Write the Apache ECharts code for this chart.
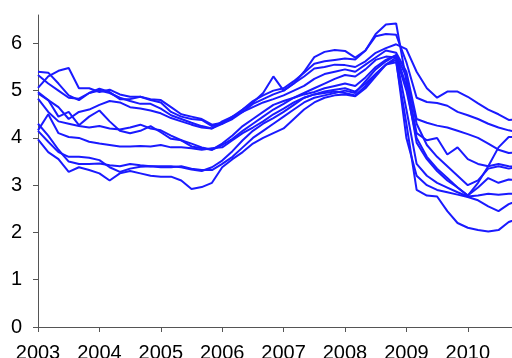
<!DOCTYPE html>
<html>
<head>
<meta charset="utf-8">
<script src="https://cdn.jsdelivr.net/npm/echarts@6/dist/echarts.min.js"></script>
<style>html,body{margin:0;padding:0;background:#fff}#c{width:512px;height:358px}</style>
</head>
<body>
<div id="c"></div>
<script>
// time grid: 2-month steps from 2003.0
var timeStart = 2003, timeStep = 1/6;
var yTicks = [0, 1, 2, 3, 4, 5, 6];
var xTicks = [2003, 2004, 2005, 2006, 2007, 2008, 2009, 2010];

var sA = [5.06,5.30,5.42,5.48,5.05,5.05,4.97,5.02,4.92,4.87,4.87,4.80,4.75,4.55,4.45,4.40,4.38,4.25,4.30,
          4.40,4.55,4.72,4.82,4.92,5.00,5.15,5.30,5.47,5.50,5.55,5.54,5.50,5.62,5.80,5.90,5.98,
          5.88,5.40,5.05,4.85,4.98,4.98,4.87,4.73,4.60,4.50,4.38,4.40];
var sB = [5.40,5.38,5.15,4.90,4.80,4.95,5.04,4.97,4.82,4.82,4.87,4.82,4.80,4.65,4.50,4.45,4.40,4.28,4.32,
          4.42,4.60,4.78,4.90,5.00,5.05,5.20,5.38,5.57,5.62,5.65,5.68,5.66,5.85,6.15,6.20,6.18,
          5.60,4.85,4.76,4.74,4.68,4.55,4.48,4.40,4.30,4.22,4.16,4.12];
var sC = [5.33,5.15,5.00,4.85,4.83,4.95,5.00,4.95,4.85,4.78,4.72,4.72,4.62,4.48,4.40,4.32,4.25,4.20,4.30,
          4.45,4.60,4.75,4.95,5.30,5.00,5.15,5.40,5.71,5.82,5.86,5.84,5.70,5.85,6.20,6.40,6.42,
          5.20,4.10,3.95,4.00,3.65,3.80,3.55,3.45,3.40,3.45,3.40,3.38];
var sG = [4.94,4.80,4.65,4.40,4.55,4.60,4.70,4.78,4.75,4.65,4.62,4.58,4.52,4.42,4.35,4.28,4.22,4.20,4.35,
          4.45,4.55,4.65,4.75,4.82,4.90,5.00,5.10,5.25,5.35,5.40,5.45,5.40,5.55,5.70,5.85,5.80,
          5.40,4.40,4.32,4.26,4.22,4.15,4.08,4.00,3.88,3.75,3.68,3.70];
var sD = [4.97,4.80,4.45,4.55,4.27,4.45,4.58,4.35,4.15,4.10,4.15,4.25,4.12,3.98,3.95,3.88,3.80,3.75,3.88,
          4.05,4.25,4.40,4.55,4.70,4.78,4.85,4.95,5.05,5.15,5.25,5.33,5.30,5.45,5.65,5.72,5.70,
          5.00,4.00,3.60,3.35,3.15,2.95,2.78,3.05,3.40,3.80,4.02,4.02];
var sE = [4.83,4.55,4.35,4.30,4.25,4.22,4.25,4.20,4.18,4.22,4.28,4.20,4.16,4.05,3.95,3.82,3.78,3.75,3.85,
          3.98,4.15,4.30,4.45,4.60,4.72,4.85,4.92,4.97,5.05,5.10,5.15,5.10,5.28,5.50,5.65,5.75,
          5.10,3.90,3.55,3.30,3.10,2.95,2.78,2.95,3.15,3.05,3.12,3.11];
var sF = [4.16,4.50,4.10,4.02,4.00,3.92,3.88,3.85,3.82,3.82,3.83,3.82,3.85,3.80,3.80,3.78,3.75,3.78,3.80,
          3.95,4.10,4.22,4.35,4.50,4.62,4.75,4.85,4.92,4.98,5.02,5.05,4.98,5.15,5.35,5.55,5.70,
          4.60,3.45,3.20,3.05,2.95,2.85,2.76,2.78,2.82,2.80,2.82,2.82];
var sH = [4.30,4.05,3.75,3.50,3.45,3.45,3.46,3.42,3.40,3.45,3.42,3.40,3.40,3.40,3.38,3.33,3.30,3.38,3.52,
          3.72,3.95,4.15,4.30,4.42,4.55,4.70,4.85,4.92,4.95,4.98,4.95,4.90,5.10,5.35,5.55,5.65,
          4.00,3.20,3.00,2.90,2.85,2.80,2.75,2.68,2.55,2.45,2.60,2.68];
var sJ = [4.15,3.92,3.70,3.60,3.60,3.58,3.53,3.38,3.28,3.35,3.39,3.40,3.38,3.38,3.40,3.35,3.32,3.32,3.45,
          3.60,3.80,4.00,4.15,4.30,4.45,4.60,4.75,4.85,4.90,4.95,5.00,4.95,5.20,5.45,5.62,5.75,
          5.30,4.30,3.85,3.60,3.40,3.20,3.00,3.10,3.35,3.40,3.35,3.39];
var sI = [3.97,3.70,3.55,3.28,3.38,3.32,3.25,3.10,3.25,3.30,3.25,3.20,3.18,3.18,3.10,2.92,2.96,3.05,3.38,
          3.55,3.70,3.88,4.00,4.10,4.20,4.40,4.60,4.75,4.85,4.90,4.92,4.88,5.05,5.30,5.55,5.60,
          4.30,2.90,2.78,2.76,2.45,2.20,2.10,2.05,2.02,2.05,2.22,2.30];

var allSeries = [sA, sB, sC, sG, sD, sE, sF, sH, sJ, sI];

var chart = echarts.init(document.getElementById('c'), null, {renderer: 'canvas'});
var font = 'Liberation Sans, Arial, sans-serif';
var axisColor = '#555555';

var series = allSeries.map(function (arr, k) {
  return {
    type: 'line',
    name: 's' + k,
    showSymbol: false,
    symbol: 'none',
    clip: true,
    lineStyle: {color: '#1a1aff', width: 2},
    data: arr.map(function (v, i) { return [timeStart + i * timeStep, v]; })
  };
});

chart.setOption({
  animation: false,
  backgroundColor: '#ffffff',
  grid: {left: 38, right: 0, top: 15, bottom: 31, containLabel: false, outerBoundsMode: 'none'},
  xAxis: {
    type: 'value',
    min: 2003,
    max: 2010.72,
    axisLine: {show: true, lineStyle: {color: axisColor, width: 1}},
    axisTick: {show: true, length: 5, inside: false, lineStyle: {color: axisColor}, customValues: xTicks},
    axisLabel: {customValues: xTicks, color: '#000', fontSize: 20, fontFamily: font, margin: 16,
      formatter: function (v) { return String(Math.round(v)); }},
    splitLine: {show: false}
  },
  yAxis: {
    type: 'value',
    min: 0,
    max: 6.6,
    axisLine: {show: true, lineStyle: {color: axisColor, width: 1}},
    axisTick: {show: true, length: 5, inside: false, lineStyle: {color: axisColor}, customValues: yTicks},
    axisLabel: {customValues: yTicks, color: '#000', fontSize: 20, fontFamily: font, margin: 16,
      formatter: function (v) { return String(Math.round(v)); }},
    splitLine: {show: false}
  },
  series: series
});
</script>
</body>
</html>
